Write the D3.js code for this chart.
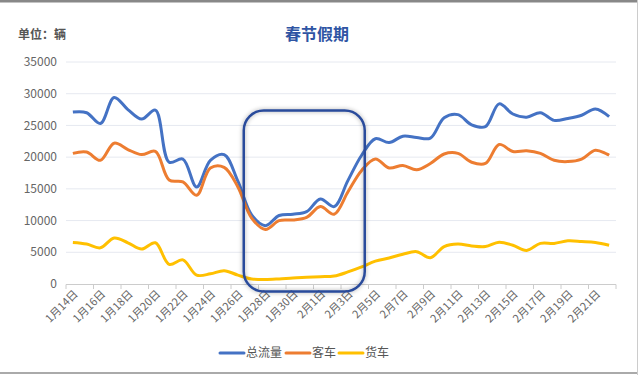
<!DOCTYPE html>
<html>
<head>
<meta charset="utf-8">
<script src="https://d3js.org/d3.v7.min.js"></script>
<style>
  html, body { margin: 0; padding: 0; background: #fff; }
  svg { display: block; font-family: "Noto Sans CJK SC", "Microsoft YaHei", sans-serif; }
</style>
</head>
<body>
<svg id="chart" width="640" height="375"></svg>
<script>
// categories: 1月14日 .. 2月22日
const dates = [];
for (let d = 14; d <= 31; d++) dates.push('1月' + d + '日');
for (let d = 1; d <= 22; d++) dates.push('2月' + d + '日');

const totalFlow = [27100, 27000, 25300, 29400, 27500, 26000, 27400, 19200, 19700, 15300,
  19500, 20400, 16200, 10900, 9200, 10800, 11000, 11400, 13400, 12200,
  16300, 20300, 22900, 22300, 23300, 23100, 23000, 26200, 26700, 25100,
  24800, 28400, 26800, 26300, 27000, 25800, 26100, 26600, 27600, 26400];
const passenger = [20600, 20800, 19500, 22200, 21200, 20400, 20900, 16400, 16100, 14000,
  18300, 18400, 15300, 10400, 8600, 10000, 10100, 10500, 12200, 11000,
  14500, 17900, 19700, 18300, 18700, 18000, 19000, 20500, 20600, 19200,
  19000, 22000, 20900, 21000, 20600, 19500, 19300, 19700, 21100, 20300];
const freight = [6550, 6300, 5700, 7250, 6500, 5500, 6500, 3100, 3800, 1400,
  1600, 2100, 1400, 800, 700, 800, 950, 1050, 1150, 1250,
  1900, 2700, 3600, 4100, 4700, 5100, 4150, 5900, 6300, 6000,
  5900, 6600, 6100, 5300, 6400, 6400, 6800, 6700, 6550, 6100];

const seriesNames = ['总流量', '客车', '货车'];
const seriesColors = ['#4472c4', '#ed7d31', '#ffc000'];
const yTicks = [0, 5000, 10000, 15000, 20000, 25000, 30000, 35000];

// annotation box spans these categories
const boxFrom = '1月27日';
const boxTo = '2月4日';

const svg = d3.select('#chart');
const margin = { left: 66, right: 24, top: 62, bottom: 91 };

const x = d3.scaleBand().domain(dates).range([margin.left, 616]);
const y = d3.scaleLinear().domain([0, 35000]).range([284, 62]);
const cx = d => x(d) + x.bandwidth() / 2;

// frame
svg.append('rect').attr('x', 0).attr('y', 0).attr('width', 638).attr('height', 2.5).attr('fill', '#888');
svg.append('rect').attr('x', 0).attr('y', 372).attr('width', 638).attr('height', 2).attr('fill', '#aaa');
svg.append('rect').attr('x', 637).attr('y', 0).attr('width', 1).attr('height', 375).attr('fill', '#ccc');

// grid
svg.append('g').selectAll('line').data(yTicks.slice(1)).enter().append('line')
  .attr('x1', margin.left).attr('x2', 616)
  .attr('y1', d => y(d)).attr('y2', d => y(d))
  .attr('stroke', '#e6e9f0').attr('stroke-width', 1);

// y labels
svg.append('g').selectAll('text').data(yTicks).enter().append('text')
  .attr('x', 57).attr('y', d => y(d)).attr('dy', '0.35em')
  .attr('text-anchor', 'end').attr('font-size', 12).attr('fill', '#666')
  .text(d => d);

// x axis
const xAxis = svg.append('g');
xAxis.append('line').attr('x1', margin.left).attr('x2', 616).attr('y1', 284.5).attr('y2', 284.5)
  .attr('stroke', '#ccc');
xAxis.selectAll('.tick').data(dates.filter((d, i) => i % 2 === 0).concat(['end'])).enter().append('line')
  .attr('x1', d => d === 'end' ? 616 : x(d)).attr('x2', d => d === 'end' ? 616 : x(d))
  .attr('y1', 284.5).attr('y2', 289)
  .attr('stroke', '#ccc');
xAxis.selectAll('text').data(dates.filter((d, i) => i % 2 === 0)).enter().append('text')
  .attr('transform', d => `translate(${cx(d) + 3},${292}) rotate(-45)`)
  .attr('text-anchor', 'end').attr('dy', '0.35em')
  .attr('font-size', 11).attr('fill', '#666')
  .text(d => d);

// lines
const line = d3.line()
  .x((d, i) => cx(dates[i]))
  .y(d => y(d))
  .curve(d3.curveCatmullRom.alpha(0.5));

[totalFlow, passenger, freight].forEach((s, k) => {
  svg.append('path').datum(s)
    .attr('d', line)
    .attr('fill', 'none')
    .attr('stroke', seriesColors[k])
    .attr('stroke-width', 3)
    .attr('stroke-linejoin', 'round');
});

// annotation box
const defs = svg.append('defs');
const f = defs.append('filter').attr('id', 'shadow').attr('x', '-10%').attr('y', '-10%').attr('width', '120%').attr('height', '120%');
f.append('feDropShadow').attr('dx', 0).attr('dy', 0).attr('stdDeviation', 2).attr('flood-color', '#000').attr('flood-opacity', 0.35);

const bx0 = x(boxFrom) - 1;
const bx1 = x(boxTo) + 10;
svg.append('rect')
  .attr('x', bx0).attr('y', 110.5)
  .attr('width', bx1 - bx0).attr('height', 181)
  .attr('rx', 20).attr('ry', 20)
  .attr('fill', 'none')
  .attr('stroke', '#2a4b9b').attr('stroke-width', 2.5)
  .attr('filter', 'url(#shadow)');

// title & unit
svg.append('text').attr('x', 317).attr('y', 40).attr('text-anchor', 'middle')
  .attr('font-size', 16).attr('font-weight', 'bold').attr('fill', '#2f55a4')
  .text('春节假期');
svg.append('text').attr('x', 18).attr('y', 39)
  .attr('font-size', 12).attr('font-weight', 'bold').attr('fill', '#555')
  .text('单位：辆');

// legend
const legendX = [220, 286, 339];
const lg = svg.append('g');
seriesNames.forEach((n, k) => {
  const g = lg.append('g').attr('transform', `translate(${legendX[k]},353)`);
  g.append('line').attr('x1', 0).attr('x2', 24).attr('y1', 0).attr('y2', 0)
    .attr('stroke', seriesColors[k]).attr('stroke-width', 3).attr('stroke-linecap', 'round');
  g.append('text').attr('x', 26).attr('y', 0).attr('dy', '0.35em')
    .attr('font-size', 12).attr('fill', '#555').text(n);
});
</script>
</body>
</html>
